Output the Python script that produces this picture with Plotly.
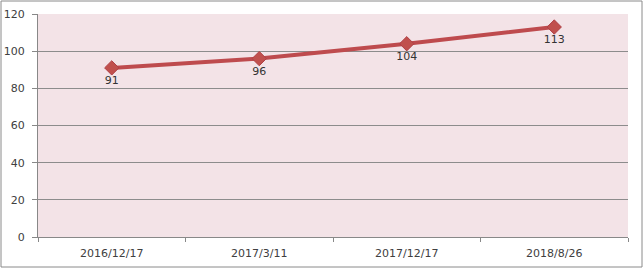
import plotly.graph_objects as go

categories = ["2016/12/17", "2017/3/11", "2017/12/17", "2018/8/26"]
values = [91, 96, 104, 113]
y_ticks = [0, 20, 40, 60, 80, 100, 120]

W, H = 644, 269
ml, mr, mt, mb = 38, 16, 14, 32
pw, ph = W - ml - mr, H - mt - mb

fig = go.Figure()
fig.add_trace(go.Scatter(
    x=categories, y=values, mode="lines+markers+text",
    text=[str(v) for v in values], textposition="bottom center",
    textfont=dict(family="DejaVu Sans", size=11, color="#333333"),
    line=dict(color="#BE4B4E", width=4),
    marker=dict(symbol="diamond", size=11, color="#C0504D", line=dict(color="#B04045", width=1)),
    showlegend=False, cliponaxis=False,
))

def px2paper_x(px):
    return (px - ml) / pw

def px2paper_y(py):
    return (H - mb - py) / ph

fig.add_shape(type="rect", xref="paper", yref="paper",
              x0=px2paper_x(1), x1=px2paper_x(642), y0=px2paper_y(267), y1=px2paper_y(1),
              line=dict(color="#8a8a8a", width=1), fillcolor="rgba(0,0,0,0)", layer="below")

fig.update_layout(
    width=W, height=H,
    margin=dict(l=ml, r=mr, t=mt, b=mb, pad=0),
    paper_bgcolor="white", plot_bgcolor="#F3E3E7",
    font=dict(family="DejaVu Sans", size=11, color="#404040"),
    xaxis=dict(type="category", range=[-0.5, len(categories) - 0.5], automargin=False,
               tickson="boundaries", ticks="outside", ticklen=4,
               tickcolor="#888888", showline=True, linecolor="#888888", linewidth=1,
               showgrid=False, ticklabelstandoff=6, tickfont=dict(size=11, color="#404040")),
    yaxis=dict(range=[0, 120], tickvals=y_ticks, ticks="outside", ticklen=5, automargin=False,
               tickcolor="#888888", showline=True, linecolor="#888888", linewidth=1,
               showgrid=True, gridcolor="#8c8c8c", gridwidth=1, zeroline=False,
               ticklabelstandoff=5, tickfont=dict(size=11, color="#404040")),
)

fig.write_html("out.html")
